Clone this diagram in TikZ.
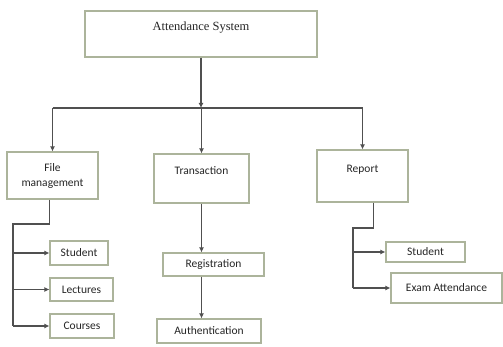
\documentclass[tikz,border=0pt]{standalone}
\usepackage{fontspec}
\setmainfont{Carlito}
\newfontfamily\titlefont{Liberation Serif}
\usetikzlibrary{arrows.meta,positioning,calc}

\definecolor{boxline}{RGB}{172,180,155}
\definecolor{linegray}{RGB}{80,80,80}

\begin{document}
\begin{tikzpicture}[x=1pt,y=-1pt,>={Latex[length=5pt,width=5pt]},
box/.style={draw=boxline,line width=1.2pt,fill=white,text=black!85,align=center,font=\fontsize{11.5}{15}\selectfont,inner sep=2pt},
flow/.style={->,line width=1.2pt,draw=linegray},
wire/.style={line width=1.2pt,draw=linegray}]
\useasboundingbox (0,0) rectangle (503,347);
\node[box,minimum width=232pt,minimum height=46pt,font=\titlefont\fontsize{12.5}{15}\selectfont] (sys) at (201,34) {Attendance System\\~};
\node[box,minimum width=91pt,minimum height=47pt] (files) at (52.5,175.5) {File\\management};
\node[box,minimum width=95pt,minimum height=49pt] (trans) at (201.5,178.5) {Transaction\\~};
\node[box,minimum width=91pt,minimum height=52pt] (report) at (362.5,176) {Report\\~};
\node[box,minimum width=58pt,minimum height=24pt] (student) at (79,253) {Student};
\node[box,minimum width=63pt,minimum height=23pt] (lectures) at (81.5,289.5) {Lectures};
\node[box,minimum width=64pt,minimum height=24pt] (courses) at (82,326) {Courses};
\node[box,minimum width=101pt,minimum height=23pt] (reg) at (213.5,264.5) {Registration};
\node[box,minimum width=104pt,minimum height=24pt] (auth) at (209,331) {Authentication};
\node[box,minimum width=79pt,minimum height=20pt] (rstudent) at (425.5,252) {Student};
\node[box,minimum width=111pt,minimum height=30pt] (exam) at (446.5,288) {Exam Attendance};
\coordinate (hub) at (201,108);
\coordinate (fsplit) at (13,224);
\coordinate (rsplit) at (353,228);
% top level
\draw[flow] (sys.south) -- (hub);
\draw[wire] (files.north |- hub) -- (report.north |- hub);
\foreach \n in {files,trans,report}
  \draw[flow] (\n.north |- hub) -- (\n.north);
% file management
\draw[wire] ([xshift=-3pt]files.south) |- (fsplit) -- (fsplit |- courses.west);
\foreach \n in {student,lectures,courses}
  \draw[flow] (fsplit |- \n.west) -- (\n.west);
% transaction
\draw[flow] (trans.south) -- (trans.south |- reg.north);
\draw[flow] (trans.south |- reg.south) -- (trans.south |- auth.north);
% report
\draw[wire] ([xshift=11pt]report.south) |- (rsplit) -- (rsplit |- exam.west);
\foreach \n in {rstudent,exam}
  \draw[flow] (rsplit |- \n.west) -- (\n.west);
\end{tikzpicture}
\end{document}
